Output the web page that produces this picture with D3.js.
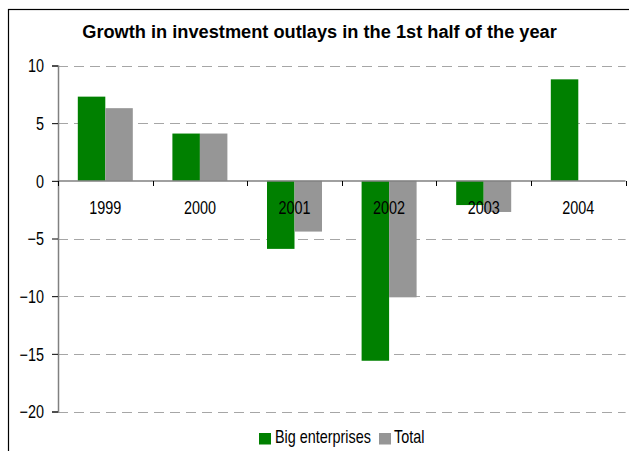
<!DOCTYPE html>
<html>
<head>
<meta charset="utf-8">
<script src="https://cdn.jsdelivr.net/npm/d3@7"></script>
<style>
  html, body { margin: 0; padding: 0; background: #fff; }
  svg { display: block; }
  text { font-family: Arial, "Liberation Sans", sans-serif; fill: #000; }
</style>
</head>
<body>
<svg id="chart" width="629" height="451"></svg>
<script>
// Half-year growth of investment outlays, %
const years = ["1999", "2000", "2001", "2002", "2003", "2004"];
const bigEnterprises = [7.3, 4.1, -5.9, -15.6, -2.1, 8.8];
const total = [6.3, 4.1, -4.4, -10.1, -2.7, null];
const seriesNames = ["Big enterprises", "Total"];
const seriesColors = ["#008000", "#969696"];
const yTicks = [-20, -15, -10, -5, 0, 5, 10];
const titleText = "Growth in investment outlays in the 1st half of the year";

const W = 629, H = 451;
const plot = { left: 58, right: 625.6, top: 65.5, bottom: 411.5 };
const TEXT_SX = 0.8;   // horizontal squeeze applied to the regular labels
const FONT = 18;

const svg = d3.select("#chart");

// outer frame (runs off the right and bottom edges)
svg.append("rect")
  .attr("x", 8.5).attr("y", 9.5)
  .attr("width", W + 10).attr("height", H + 10)
  .attr("fill", "#fff").attr("stroke", "#000").attr("stroke-width", 1.2);

// title
svg.append("g")
  .attr("transform", `translate(319.5,37.5) scale(1.035,1)`)
  .append("text")
  .attr("text-anchor", "middle")
  .attr("font-size", 17.6)
  .attr("font-weight", "bold")
  .text(titleText);

const x = d3.scaleBand().domain(years).range([plot.left, plot.right]).padding(0);
const xs = d3.scaleBand().domain(seriesNames).range([0, x.bandwidth()])
  .paddingInner(0).paddingOuter(0.72);
const y = d3.scaleLinear().domain([-20, 10]).range([plot.bottom, plot.top]);

// dashed gridlines
svg.append("g")
  .selectAll("line")
  .data(yTicks.filter(d => d !== 0))
  .join("line")
  .attr("x1", plot.left).attr("x2", plot.right)
  .attr("y1", d => Math.round(y(d)) + 0.5).attr("y2", d => Math.round(y(d)) + 0.5)
  .attr("stroke", "#a6a6a6").attr("stroke-width", 1)
  .attr("stroke-dasharray", "10,6");

// bars
const rows = years.map((yr, i) => ({ year: yr, values: [bigEnterprises[i], total[i]] }));
const groups = svg.append("g").selectAll("g")
  .data(rows).join("g")
  .attr("transform", d => `translate(${x(d.year)},0)`);
groups.selectAll("rect")
  .data(d => d.values.map((v, k) => ({ name: seriesNames[k], v, k })).filter(e => e.v !== null))
  .join("rect")
  .attr("x", e => xs(e.name))
  .attr("width", xs.bandwidth())
  .attr("y", e => y(Math.max(0, e.v)))
  .attr("height", e => Math.abs(y(e.v) - y(0)))
  .attr("fill", e => seriesColors[e.k]);

// y axis
const yAxis = svg.append("g")
  .attr("transform", `translate(${plot.left},0)`)
  .call(d3.axisLeft(y).tickValues(yTicks).tickSize(6).tickPadding(0).tickFormat(d3.format("d")));
yAxis.select(".domain").attr("stroke", "#808080").attr("stroke-width", 1.5);
yAxis.selectAll(".tick line").attr("stroke", "#000");
yAxis.selectAll(".tick text")
  .attr("x", -14 / TEXT_SX).attr("dy", "0.36em")
  .attr("transform", `scale(${TEXT_SX},1)`)
  .attr("font-size", FONT).attr("font-family", null);

// x axis line at zero with ticks on band boundaries
const zeroY = Math.round(y(0));
const xAxis = svg.append("g");
xAxis.append("line")
  .attr("x1", plot.left).attr("x2", plot.right)
  .attr("y1", zeroY).attr("y2", zeroY)
  .attr("stroke", "#808080").attr("stroke-width", 1.5);
const bounds = years.map(d => x(d)).concat([plot.right]);
xAxis.selectAll("line.tk")
  .data(bounds)
  .join("line").attr("class", "tk")
  .attr("x1", d => Math.round(d) + 0.5).attr("x2", d => Math.round(d) + 0.5)
  .attr("y1", zeroY).attr("y2", zeroY + 5)
  .attr("stroke", "#000").attr("stroke-width", 1);

// category labels
const catAxis = svg.append("g")
  .attr("transform", `translate(0,${zeroY})`)
  .call(d3.axisBottom(x).tickSize(0));
catAxis.select(".domain").remove();
catAxis.selectAll(".tick text")
  .attr("y", 33.5).attr("dy", null)
  .attr("font-size", FONT).attr("font-family", null)
  .attr("transform", `scale(${TEXT_SX},1)`);

// legend
const legendItems = [
  { name: seriesNames[0], color: seriesColors[0], sx: 259, tx: 275 },
  { name: seriesNames[1], color: seriesColors[1], sx: 379, tx: 394 }
];
const legend = svg.append("g");
legendItems.forEach(it => {
  legend.append("rect")
    .attr("x", it.sx).attr("y", 433).attr("width", 12).attr("height", 11.5)
    .attr("fill", it.color);
  legend.append("g")
    .attr("transform", `translate(${it.tx},442.5) scale(${TEXT_SX},1)`)
    .append("text").attr("font-size", FONT).text(it.name);
});
</script>
</body>
</html>
